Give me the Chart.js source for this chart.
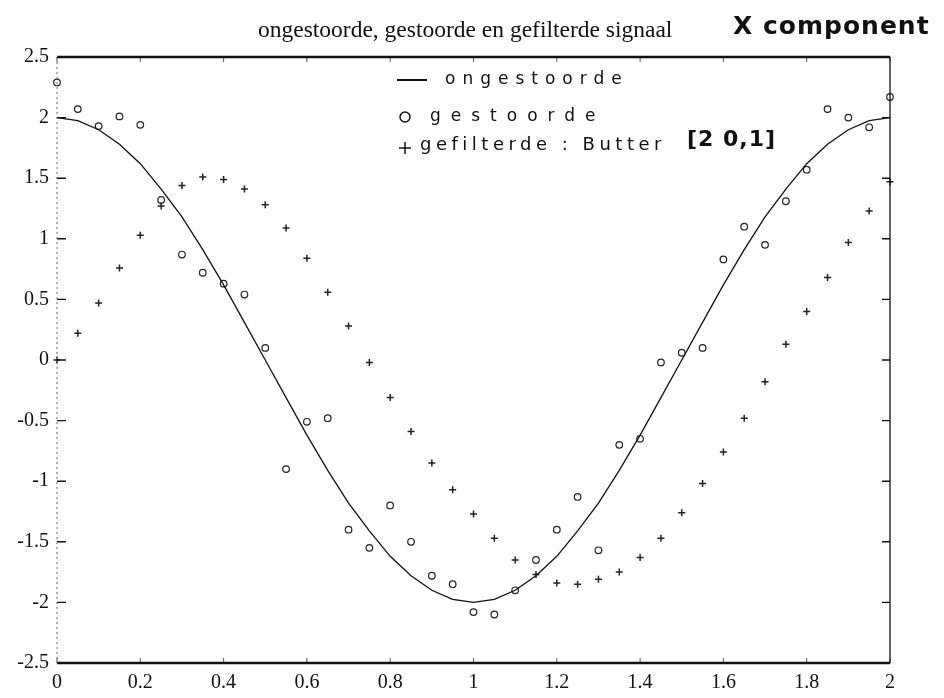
<!DOCTYPE html>
<html>
<head>
<meta charset="utf-8">
<script src="https://cdn.jsdelivr.net/npm/chart.js@4.4.1/dist/chart.umd.min.js"></script>
<style>
  html, body { margin: 0; padding: 0; background: #fff; }
  #wrap { width: 944px; height: 698px; }
</style>
</head>
<body>
<div id="wrap"><canvas id="signalChart" width="944" height="698"></canvas></div>
<script>
// sample times (s)
const tValues = [0, 0.05, 0.1, 0.15, 0.2, 0.25, 0.3, 0.35, 0.4, 0.45, 0.5, 0.55, 0.6, 0.65, 0.7, 0.75, 0.8, 0.85, 0.9, 0.95,
                 1, 1.05, 1.1, 1.15, 1.2, 1.25, 1.3, 1.35, 1.4, 1.45, 1.5, 1.55, 1.6, 1.65, 1.7, 1.75, 1.8, 1.85, 1.9, 1.95, 2];

// ongestoorde (clean) signal
const ongestoorde = [2.00, 1.975, 1.90, 1.78, 1.62, 1.41, 1.18, 0.91, 0.62, 0.31, 0.00, -0.31, -0.62, -0.91, -1.18, -1.41, -1.62, -1.78, -1.90, -1.975,
                     -2.00, -1.975, -1.90, -1.78, -1.62, -1.41, -1.18, -0.91, -0.62, -0.31, 0.00, 0.31, 0.62, 0.91, 1.18, 1.41, 1.62, 1.78, 1.90, 1.975, 2.00];

// gestoorde (noisy) signal
const gestoorde = [2.29, 2.07, 1.93, 2.01, 1.94, 1.32, 0.87, 0.72, 0.63, 0.54, 0.10, -0.90, -0.51, -0.48, -1.40, -1.55, -1.20, -1.50, -1.78, -1.85,
                   -2.08, -2.10, -1.90, -1.65, -1.40, -1.13, -1.57, -0.70, -0.65, -0.02, 0.06, 0.10, 0.83, 1.10, 0.95, 1.31, 1.57, 2.07, 2.00, 1.92, 2.17];

// gefilterde signal (Butterworth [2 0.1])
const gefilterde = [0.00, 0.22, 0.47, 0.76, 1.03, 1.27, 1.44, 1.51, 1.49, 1.41, 1.28, 1.09, 0.84, 0.56, 0.28, -0.02, -0.31, -0.59, -0.85, -1.07,
                    -1.27, -1.47, -1.65, -1.77, -1.84, -1.85, -1.81, -1.75, -1.63, -1.47, -1.26, -1.02, -0.76, -0.48, -0.18, 0.13, 0.40, 0.68, 0.97, 1.23, 1.47];

const xTicks = [0, 0.2, 0.4, 0.6, 0.8, 1, 1.2, 1.4, 1.6, 1.8, 2];
const xTickLabels = ['0', '0.2', '0.4', '0.6', '0.8', '1', '1.2', '1.4', '1.6', '1.8', '2'];
const yTicks = [-2.5, -2, -1.5, -1, -0.5, 0, 0.5, 1, 1.5, 2, 2.5];
const yTickLabels = ['-2.5', '-2', '-1.5', '-1', '-0.5', '0', '0.5', '1', '1.5', '2', '2.5'];

const titleText = 'ongestoorde, gestoorde en gefilterde signaal';
const noteText = 'X component';
const legendLabels = ['ongestoorde', 'gestoorde', 'gefilterde : Butter', '[2 0,1]'];

const serif = "'Liberation Serif', 'DejaVu Serif', serif";
const hand = "'DejaVu Sans', sans-serif";

const toPoints = ys => tValues.map((t, i) => ({ x: t, y: ys[i] }));

// frame, inward ticks, titles and the hand-written legend
const paperPlugin = {
    id: 'paper',
    afterDraw(chart) {
        const { ctx, chartArea: a, scales } = chart;
        ctx.save();
        ctx.strokeStyle = '#111';

        // inward tick marks
        ctx.lineWidth = 1.4;
        yTicks.forEach(v => {
            const y = scales.y.getPixelForValue(v);
            ctx.beginPath();
            ctx.moveTo(a.left, y); ctx.lineTo(a.left + 9, y);
            ctx.moveTo(a.right - 8, y); ctx.lineTo(a.right, y);
            ctx.stroke();
        });
        ctx.lineWidth = 1;
        ctx.strokeStyle = '#555';
        xTicks.forEach(v => {
            const x = scales.x.getPixelForValue(v);
            ctx.beginPath();
            ctx.moveTo(x, a.top); ctx.lineTo(x, a.top + 5);
            ctx.moveTo(x, a.bottom); ctx.lineTo(x, a.bottom - 5);
            ctx.stroke();
        });

        // frame
        ctx.strokeStyle = '#111';
        ctx.lineWidth = 2.5;
        ctx.beginPath();
        ctx.moveTo(a.left, a.top); ctx.lineTo(a.right, a.top);
        ctx.moveTo(a.left, a.bottom); ctx.lineTo(a.right, a.bottom);
        ctx.stroke();
        ctx.lineWidth = 1.3;
        ctx.beginPath();
        ctx.moveTo(a.right, a.top); ctx.lineTo(a.right, a.bottom);
        ctx.stroke();
        ctx.setLineDash([2, 3]);
        ctx.lineWidth = 1;
        ctx.strokeStyle = '#666';
        ctx.beginPath();
        ctx.moveTo(a.left, a.top); ctx.lineTo(a.left, a.bottom);
        ctx.stroke();
        ctx.setLineDash([]);

        // title + note
        ctx.fillStyle = '#111';
        ctx.textBaseline = 'alphabetic';
        ctx.textAlign = 'left';
        ctx.font = `23.5px ${serif}`;
        ctx.fillText(titleText, 258, 37);
        ctx.font = `bold 25px ${hand}`;
        ctx.letterSpacing = '1px';
        ctx.fillText(noteText, 733, 34);

        // legend
        ctx.strokeStyle = '#111';
        ctx.lineWidth = 2;
        ctx.beginPath();
        ctx.moveTo(397, 80); ctx.lineTo(427, 80);
        ctx.stroke();
        ctx.lineWidth = 1.5;
        ctx.beginPath();
        ctx.arc(405, 117, 5, 0, Math.PI * 2);
        ctx.stroke();
        ctx.beginPath();
        ctx.moveTo(399, 148); ctx.lineTo(411, 148);
        ctx.moveTo(405, 142); ctx.lineTo(405, 154);
        ctx.stroke();

        ctx.font = `17px ${hand}`;
        ctx.textBaseline = 'middle';
        ctx.letterSpacing = '7px';
        ctx.fillText(legendLabels[0], 445, 80);
        ctx.letterSpacing = '10px';
        ctx.fillText(legendLabels[1], 430, 117);
        ctx.font = `18px ${hand}`;
        ctx.letterSpacing = '4.5px';
        ctx.fillText(legendLabels[2], 420, 145);
        ctx.font = `bold 22px ${hand}`;
        ctx.letterSpacing = '1px';
        ctx.fillText(legendLabels[3], 687, 140);
        ctx.restore();
    }
};

const config = {
    type: 'scatter',
    data: {
        datasets: [
            {
                label: 'ongestoorde',
                data: toPoints(ongestoorde),
                showLine: true,
                borderColor: '#111',
                borderWidth: 1.3,
                pointRadius: 0,
                tension: 0,
                clip: false
            },
            {
                label: 'gestoorde',
                data: toPoints(gestoorde),
                pointStyle: 'circle',
                pointRadius: 3.3,
                borderColor: '#222',
                borderWidth: 1.2,
                backgroundColor: 'rgba(0,0,0,0)',
                clip: false
            },
            {
                label: 'gefilterde',
                data: toPoints(gefilterde),
                pointStyle: 'cross',
                pointRadius: 3.5,
                borderColor: '#222',
                borderWidth: 1.5,
                clip: false
            }
        ]
    },
    options: {
        responsive: false,
        animation: false,
        events: [],
        layout: { padding: { top: 57, right: 54, left: 0, bottom: 0 } },
        scales: {
            x: {
                type: 'linear',
                min: 0,
                max: 2,
                afterFit: s => { s.height = 35; },
                afterBuildTicks: s => { s.ticks = xTicks.map(v => ({ value: v })); },
                grid: { display: false, drawTicks: false },
                border: { display: false },
                ticks: {
                    padding: 8,
                    color: '#111',
                    font: { family: serif, size: 20 },
                    maxRotation: 0,
                    callback: (v, i) => xTickLabels[i]
                }
            },
            y: {
                type: 'linear',
                min: -2.5,
                max: 2.5,
                afterFit: s => { s.width = 57; },
                afterBuildTicks: s => { s.ticks = yTicks.map(v => ({ value: v })); },
                grid: { display: false, drawTicks: false },
                border: { display: false },
                ticks: {
                    padding: 8,
                    color: '#111',
                    font: { family: serif, size: 20 },
                    callback: (v, i) => yTickLabels[i]
                }
            }
        },
        plugins: {
            legend: { display: false },
            tooltip: { enabled: false }
        }
    },
    plugins: [paperPlugin]
};

new Chart(document.getElementById('signalChart').getContext('2d'), config);
</script>
</body>
</html>
